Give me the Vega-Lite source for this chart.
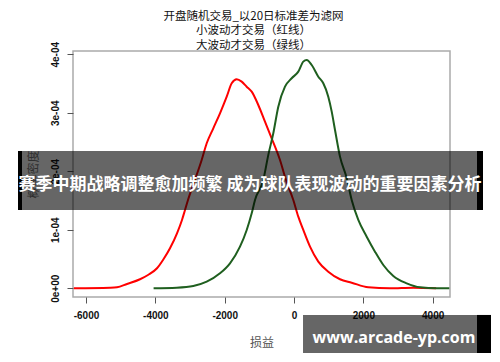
{
  "$schema": "https://vega.github.io/schema/vega-lite/v6.json",
  "width": 377,
  "height": 246,
  "autosize": {"type": "none"},
  "padding": {"left": 73, "top": 51, "right": 50, "bottom": 65},
  "background": "white",
  "title": {
    "text": ["开盘随机交易_以20日标准差为滤网", "小波动才交易（红线）", "大波动才交易（绿线）"],
    "font": "Noto Sans CJK SC",
    "fontSize": 11.5,
    "fontWeight": "normal",
    "lineHeight": 14.5,
    "color": "#111111",
    "anchor": "middle",
    "dx": -8,
    "dy": 12,
    "offset": 2
  },
  "config": {"view": {"stroke": "#aaaaaa", "strokeWidth": 1.5}},
  "layer": [
    {
      "data": {
        "values": [
          {"series": "red", "x": -6350, "y": 0},
          {"series": "red", "x": -5308, "y": 0.000001},
          {"series": "red", "x": -5106, "y": 0.0000017},
          {"series": "red", "x": -4817, "y": 0.0000074},
          {"series": "red", "x": -4442, "y": 0.0000154},
          {"series": "red", "x": -4212, "y": 0.0000227},
          {"series": "red", "x": -3952, "y": 0.0000342},
          {"series": "red", "x": -3779, "y": 0.0000484},
          {"series": "red", "x": -3577, "y": 0.0000684},
          {"series": "red", "x": -3375, "y": 0.000094},
          {"series": "red", "x": -3231, "y": 0.0001168},
          {"series": "red", "x": -3144, "y": 0.0001338},
          {"series": "red", "x": -3058, "y": 0.0001509},
          {"series": "red", "x": -2860, "y": 0.000185},
          {"series": "red", "x": -2663, "y": 0.0002193},
          {"series": "red", "x": -2518, "y": 0.0002479},
          {"series": "red", "x": -2328, "y": 0.0002735},
          {"series": "red", "x": -2135, "y": 0.0002991},
          {"series": "red", "x": -1941, "y": 0.0003275},
          {"series": "red", "x": -1797, "y": 0.0003504},
          {"series": "red", "x": -1653, "y": 0.0003573},
          {"series": "red", "x": -1509, "y": 0.0003532},
          {"series": "red", "x": -1365, "y": 0.0003446},
          {"series": "red", "x": -1220, "y": 0.0003361},
          {"series": "red", "x": -1030, "y": 0.0003133},
          {"series": "red", "x": -837, "y": 0.0002848},
          {"series": "red", "x": -644, "y": 0.0002564},
          {"series": "red", "x": -404, "y": 0.0002193},
          {"series": "red", "x": -231, "y": 0.0001851},
          {"series": "red", "x": -20, "y": 0.0001509},
          {"series": "red", "x": 124, "y": 0.0001224},
          {"series": "red", "x": 268, "y": 0.0000997},
          {"series": "red", "x": 462, "y": 0.0000711},
          {"series": "red", "x": 701, "y": 0.0000455},
          {"series": "red", "x": 989, "y": 0.0000284},
          {"series": "red", "x": 1327, "y": 0.0000154},
          {"series": "red", "x": 1664, "y": 0.0000096},
          {"series": "red", "x": 2143, "y": 0.0000017},
          {"series": "red", "x": 2769, "y": 0},
          {"series": "red", "x": 3433, "y": 0.000001},
          {"series": "red", "x": 4100, "y": 0},
          {"series": "green", "x": -4050, "y": 0},
          {"series": "green", "x": -3384, "y": 0.000001},
          {"series": "green", "x": -2905, "y": 0.0000039},
          {"series": "green", "x": -2518, "y": 0.0000113},
          {"series": "green", "x": -2135, "y": 0.0000256},
          {"series": "green", "x": -1846, "y": 0.0000427},
          {"series": "green", "x": -1558, "y": 0.0000711},
          {"series": "green", "x": -1364, "y": 0.0000997},
          {"series": "green", "x": -1220, "y": 0.0001282},
          {"series": "green", "x": -1125, "y": 0.0001509},
          {"series": "green", "x": -886, "y": 0.0001851},
          {"series": "green", "x": -741, "y": 0.000228},
          {"series": "green", "x": -597, "y": 0.000265},
          {"series": "green", "x": -453, "y": 0.0003104},
          {"series": "green", "x": -260, "y": 0.0003446},
          {"series": "green", "x": -66, "y": 0.000359},
          {"series": "green", "x": 124, "y": 0.0003703},
          {"series": "green", "x": 268, "y": 0.0003874},
          {"series": "green", "x": 366, "y": 0.0003903},
          {"series": "green", "x": 511, "y": 0.0003817},
          {"series": "green", "x": 701, "y": 0.0003617},
          {"series": "green", "x": 845, "y": 0.0003504},
          {"series": "green", "x": 989, "y": 0.0003275},
          {"series": "green", "x": 1088, "y": 0.0003019},
          {"series": "green", "x": 1183, "y": 0.0002706},
          {"series": "green", "x": 1327, "y": 0.000225},
          {"series": "green", "x": 1520, "y": 0.0001885},
          {"series": "green", "x": 1664, "y": 0.0001509},
          {"series": "green", "x": 1855, "y": 0.0001168},
          {"series": "green", "x": 2097, "y": 0.0000882},
          {"series": "green", "x": 2336, "y": 0.0000626},
          {"series": "green", "x": 2576, "y": 0.0000398},
          {"series": "green", "x": 2865, "y": 0.000021},
          {"series": "green", "x": 3251, "y": 0.0000085},
          {"series": "green", "x": 3635, "y": 0.0000017},
          {"series": "green", "x": 4116, "y": 0},
          {"series": "green", "x": 4480, "y": 0}
        ]
      },
      "mark": {"type": "line", "strokeWidth": 2, "interpolate": "monotone", "clip": true},
      "encoding": {
        "x": {
          "field": "x",
          "type": "quantitative",
          "scale": {"domain": [-6375, 4500], "nice": false, "zero": false},
          "axis": {
            "values": [-6000, -4000, -2000, 0, 2000, 4000],
            "labelExpr": "'' + datum.value",
            "grid": false,
            "domain": false,
            "tickSize": 6,
            "tickColor": "#555555",
            "labelFont": "Liberation Sans",
            "labelFontSize": 10,
            "labelFontWeight": "bold",
            "labelColor": "#111111",
            "labelPadding": 7,
            "title": "损益",
            "titleFont": "Noto Sans CJK SC",
            "titleFontSize": 12,
            "titleFontWeight": "normal",
            "titleColor": "#555555",
            "titlePadding": 17
          }
        },
        "y": {
          "field": "y",
          "type": "quantitative",
          "scale": {"domain": [-0.0000149, 0.0004056], "nice": false, "zero": false},
          "axis": {
            "values": [0, 0.0001, 0.0002, 0.0003, 0.0004],
            "labelExpr": "datum.value == 0 ? '0e+00' : format(round(datum.value * 10000), 'd') + 'e-04'",
            "grid": false,
            "domain": false,
            "tickSize": 6,
            "tickColor": "#555555",
            "labelFont": "Liberation Sans",
            "labelFontSize": 10,
            "labelFontWeight": "bold",
            "labelColor": "#111111",
            "labelAngle": 270,
            "labelAlign": "center",
            "labelBaseline": "bottom",
            "labelPadding": 7,
            "title": "概率密度",
            "titleFont": "Noto Sans CJK SC",
            "titleFontSize": 12,
            "titleFontWeight": "normal",
            "titleColor": "#777777",
            "titlePadding": 10
          }
        },
        "color": {
          "field": "series",
          "type": "nominal",
          "scale": {"domain": ["red", "green"], "range": ["#ff0000", "#1f5f1f"]},
          "legend": null
        }
      }
    },
    {
      "data": {"values": [{}]},
      "mark": {"type": "rect", "color": "#000000", "opacity": 0.6},
      "encoding": {
        "x": {"datum": -7846, "type": "quantitative", "scale": {"domain": [-6375, 4500], "nice": false, "zero": false}},
        "x2": {"datum": 5279},
        "y": {"datum": 0.0002347, "type": "quantitative", "scale": {"domain": [-0.0000149, 0.0004056], "nice": false, "zero": false}},
        "y2": {"datum": 0.0001338}
      }
    },
    {
      "data": {"values": [{"a": -7962, "b": -7846}, {"a": 5279, "b": 5452}]},
      "mark": {"type": "rect", "color": "#000000"},
      "encoding": {
        "x": {"field": "a", "type": "quantitative", "scale": {"domain": [-6375, 4500], "nice": false, "zero": false}},
        "x2": {"field": "b"},
        "y": {"datum": 0.0002347, "type": "quantitative", "scale": {"domain": [-0.0000149, 0.0004056], "nice": false, "zero": false}},
        "y2": {"datum": 0.0001338}
      }
    },
    {
      "data": {"values": [{}]},
      "mark": {"type": "text", "text": "赛季中期战略调整愈加频繁 成为球队表现波动的重要因素分析", "font": "Noto Sans CJK SC", "fontSize": 17, "fontWeight": "bold", "color": "#ffffff", "align": "center", "baseline": "middle"},
      "encoding": {
        "x": {"datum": -1269, "type": "quantitative", "scale": {"domain": [-6375, 4500], "nice": false, "zero": false}},
        "y": {"datum": 0.0001774, "type": "quantitative", "scale": {"domain": [-0.0000149, 0.0004056], "nice": false, "zero": false}}
      }
    },
    {
      "data": {"values": [{}]},
      "mark": {"type": "rect", "color": "#000000", "opacity": 0.6},
      "encoding": {
        "x": {"datum": 260, "type": "quantitative", "scale": {"domain": [-6375, 4500], "nice": false, "zero": false}},
        "x2": {"datum": 5279},
        "y": {"datum": -0.0000456, "type": "quantitative", "scale": {"domain": [-0.0000149, 0.0004056], "nice": false, "zero": false}},
        "y2": {"datum": -0.0001106}
      }
    },
    {
      "data": {"values": [{}]},
      "mark": {"type": "rect", "color": "#000000"},
      "encoding": {
        "x": {"datum": 5279, "type": "quantitative", "scale": {"domain": [-6375, 4500], "nice": false, "zero": false}},
        "x2": {"datum": 5683},
        "y": {"datum": -0.0000456, "type": "quantitative", "scale": {"domain": [-0.0000149, 0.0004056], "nice": false, "zero": false}},
        "y2": {"datum": -0.0001106}
      }
    },
    {
      "data": {"values": [{}]},
      "mark": {"type": "text", "text": "www.arcade-yp.com", "font": "Open Sans", "fontSize": 16, "fontWeight": "bold", "color": "#ffffff", "align": "center", "baseline": "alphabetic"},
      "encoding": {
        "x": {"datum": 2885, "type": "quantitative", "scale": {"domain": [-6375, 4500], "nice": false, "zero": false}},
        "y": {"datum": -0.0000935, "type": "quantitative", "scale": {"domain": [-0.0000149, 0.0004056], "nice": false, "zero": false}}
      }
    }
  ]
}
